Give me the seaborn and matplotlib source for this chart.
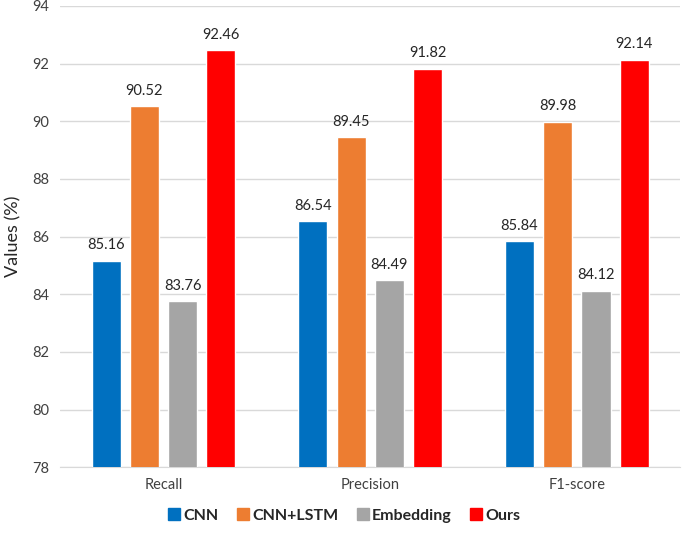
import numpy as np
import pandas as pd
import matplotlib
matplotlib.use("Agg")
import matplotlib.pyplot as plt
import seaborn as sns

metrics = ["Recall", "Precision", "F1-score"]
models = ["CNN", "CNN+LSTM", "Embedding", "Ours"]
cnn = [85.16, 86.54, 85.84]
cnn_lstm = [90.52, 89.45, 89.98]
embedding = [83.76, 84.49, 84.12]
ours = [92.46, 91.82, 92.14]
colors = ["#0070C0", "#ED7D31", "#A5A5A5", "#FF0000"]

rows = []
for name, vals in zip(models, [cnn, cnn_lstm, embedding, ours]):
    for m, v in zip(metrics, vals):
        rows.append({"Metric": m, "Model": name, "Value": v})
df = pd.DataFrame(rows)

sns.set_style("white")
plt.rcParams["font.family"] = ["Lato", "DejaVu Sans"]

fig = plt.figure(figsize=(6.85, 5.37), dpi=100)
ax = fig.add_axes([0.088, 0.130, 0.905, 0.859])

sns.barplot(data=df, x="Metric", y="Value", hue="Model", palette=colors,
            saturation=1, width=0.74, gap=0.24, ax=ax, legend=False, zorder=3)

ax.set_ylim(78, 94)
ax.set_yticks(np.arange(78, 95, 2))
ax.yaxis.grid(True, color="#D9D9D9", linewidth=1, zorder=0)
ax.set_axisbelow(True)
for s in ["top", "right", "left"]:
    ax.spines[s].set_visible(False)
ax.spines["bottom"].set_color("#D9D9D9")
ax.tick_params(axis="both", length=0, labelsize=10.5, colors="#404040", pad=8)
ax.set_xlabel("")
ax.set_ylabel("Values (%)", fontsize=13, color="#262626", labelpad=8)

for cont in ax.containers:
    ax.bar_label(cont, fmt="%.2f", padding=6, fontsize=10.5, color="#262626")

handles = [plt.Line2D([], [], marker="s", linestyle="", markersize=8,
                      markerfacecolor=c, markeredgecolor=c) for c in colors]
fig.legend(handles, models, loc="lower center", ncol=4, frameon=False,
           bbox_to_anchor=(0.5, 0.0), prop={"weight": "bold", "size": 11.5},
           handletextpad=0.0, handlelength=1.2, columnspacing=0.9)

fig.savefig("out.png", dpi=100)
